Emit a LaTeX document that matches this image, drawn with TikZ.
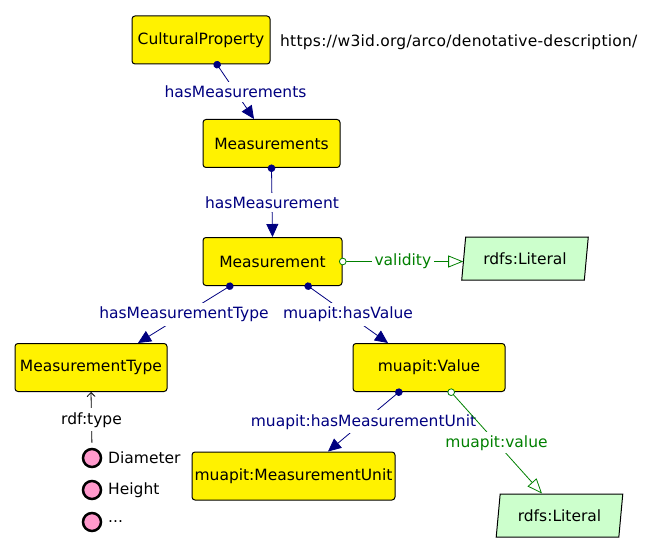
\documentclass[tikz,border=0pt]{standalone}
\usepackage{fontspec}
\setmainfont{DejaVu Sans}
\newfontfamily\urlfont[LetterSpace=1.5]{DejaVu Sans}
\usetikzlibrary{arrows.meta,shapes.geometric}
\definecolor{navyc}{RGB}{0,0,128}
\definecolor{greenc}{RGB}{0,128,0}
\definecolor{litfill}{RGB}{204,255,204}
\definecolor{pinkc}{RGB}{255,153,204}
\begin{document}
\begin{tikzpicture}[x=1pt,y=-1pt, font=\fontsize{15.5}{18}\selectfont,
 cls/.style={draw=black, line width=1pt, fill=yellow, rounded corners=3pt, inner sep=0pt, minimum height=48pt},
 lit/.style={draw=black, line width=1pt, fill=litfill, trapezium, trapezium left angle=77, trapezium right angle=103, trapezium stretches=true, minimum width=127pt, minimum height=43pt, inner sep=0pt},
 ind/.style={circle, draw=black, line width=2.5pt, fill=pinkc, minimum size=18pt, inner sep=0pt},
 obj/.style={draw=navyc, line width=0.8pt, shorten <=-3.5pt, {Circle[length=7.5pt]}-{Triangle[length=13pt,width=12pt]}},
 dat/.style={draw=greenc, line width=0.8pt, shorten <=-3.5pt, {Circle[open,fill=white,length=7.5pt]}-{Triangle[open,fill=white,length=15pt,width=12pt]}},
 olab/.style={text=navyc, fill=white, inner xsep=2pt, inner ysep=4pt},
 dlab/.style={text=greenc, fill=white, inner sep=3pt},
 tlab/.style={text=black, fill=white, inner xsep=2pt, inner ysep=4pt},
 plain/.style={inner sep=0pt},
]
\useasboundingbox (0,0) rectangle (663,553);
\node[cls, minimum width=138pt] (cp) at (201,40) {CulturalProperty};
\node[plain, anchor=west] (url) at (280,42) {\urlfont https://w3id.org/arco/denotative-description/};
\node[cls, minimum width=137pt] (ms) at (271.5,143.5) {Measurements};
\node[cls, minimum width=139pt] (m) at (272.5,261.5) {Measurement};
\node[cls, minimum width=152pt] (mt) at (91,367.5) {MeasurementType};
\node[cls, minimum width=152pt] (v) at (429,367.5) {muapit:Value};
\node[cls, minimum width=203pt] (mu) at (293.5,476) {muapit:MeasurementUnit};
\node[lit] (l1) at (525,258.5) {rdfs:Literal};
\node[lit] (l2) at (559.5,515.5) {rdfs:Literal};
\node[ind] (i1) at (92,458) {};
\node[ind] (i2) at (92,490) {};
\node[ind] (i3) at (92,522) {};
\node[plain, anchor=west] (t1) at (108,458) {Diameter};
\node[plain, anchor=west] (t2) at (108,490) {Height};
\node[plain, anchor=west] (t3) at (108,522) {...};
\draw[obj] ([xshift=16pt]cp.south) -- node[olab]{hasMeasurements} ([xshift=-17.5pt]ms.north);
\draw[obj] (ms.south) -- node[olab]{hasMeasurement} (m.north);
\draw[obj] ([xshift=-42.5pt]m.south) -- node[olab]{hasMeasurementType} ([xshift=47pt]mt.north);
\draw[obj] ([xshift=35.5pt]m.south) -- node[olab]{muapit:hasValue} ([xshift=-41pt]v.north);
\draw[obj] ([xshift=-30pt]v.south) -- node[olab]{muapit:hasMeasurementUnit} ([xshift=34.5pt]mu.north);
\draw[dat] ([xshift=22pt]v.south) -- node[dlab]{muapit:value} ([xshift=-17.5pt]l2.north);
\draw[dat] (m.east) -- node[dlab]{validity} (m.east -| l1.west);
\draw[black, line width=0.8pt, shorten <=5pt, -{Straight Barb[length=4pt,width=8pt]}] (i1.north) -- node[tlab]{rdf:type} (mt.south);
\end{tikzpicture}
\end{document}
